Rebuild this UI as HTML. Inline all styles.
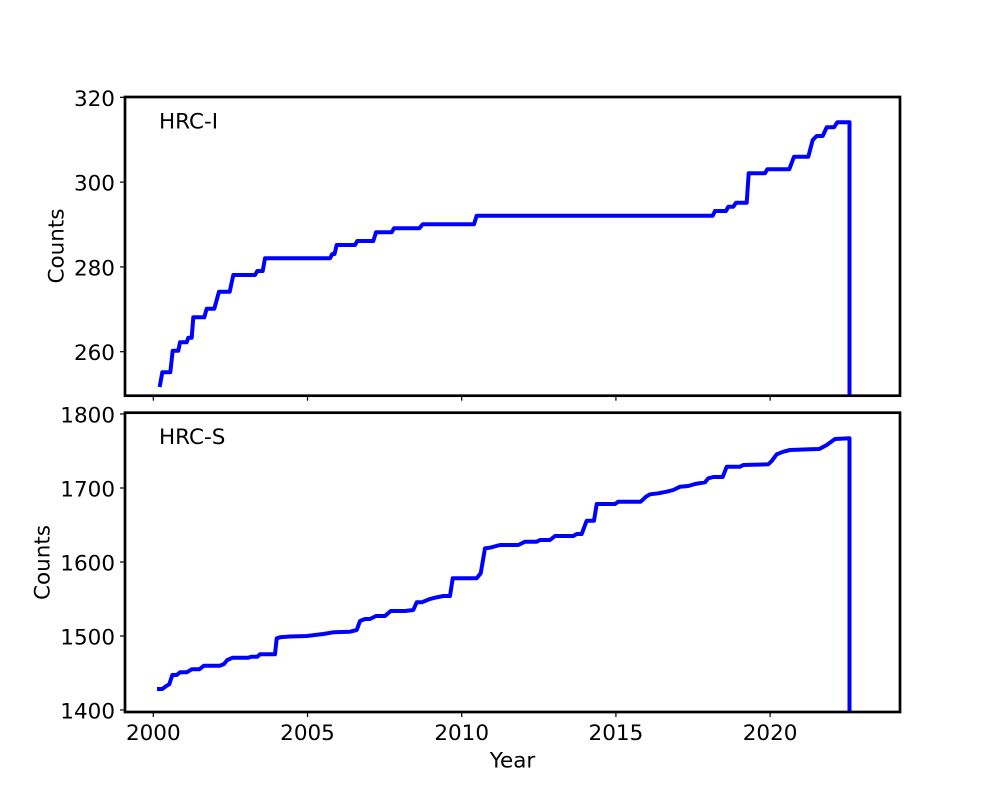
<!DOCTYPE html>
<html>
<head>
<meta charset="utf-8">
<style>
  html, body { margin: 0; padding: 0; background: #ffffff; }
  svg { display: block; }
  text { font-family: "DejaVu Sans", "Liberation Sans", sans-serif; font-size: 21.5px; fill: #000; }
</style>
</head>
<body>
<svg width="1000" height="800" viewBox="0 0 1000 800" xmlns="http://www.w3.org/2000/svg">
  <rect x="0" y="0" width="1000" height="800" fill="#ffffff"/>
  <defs>
    <clipPath id="c1"><rect x="125" y="97" width="775" height="298.7"/></clipPath>
    <clipPath id="c2"><rect x="125" y="412.7" width="775" height="299.3"/></clipPath>
  </defs>

  <!-- ===== Top axes (HRC-I) ===== -->
  <polyline clip-path="url(#c1)" fill="none" stroke="#0000ff" stroke-width="4" stroke-linejoin="round" stroke-linecap="square"
    points="160,385 162.3,372.3 170.3,372.3 172.7,350.7 178.3,350.7 180,342.3 186.7,342.3 188.3,337.7 191.7,337.7 193.3,317.3 204.3,317.3 206.7,308.7 214.3,308.7 219,291.7 229.7,291.7 233.3,275 255,275 257.3,271 262.7,271 265,258.3 330,258.3 332.3,254 334.5,254 336.7,245 355,245 357.3,241 373.3,241 376,232.3 391.7,232.3 394,228.3 419.3,228.3 422.7,224.3 474,224.3 476.7,215.7 712.7,215.7 715,211 726,211 728.3,206.7 733.3,206.7 736,202.7 746.7,202.7 748.7,173.3 765,173.3 767.3,169.3 789.3,169.3 794,156.7 808.3,156.7 812.7,140 816.7,136 822.7,136 826.7,127.3 834,127.3 837.3,122.3 849.5,122.3 849.5,410"/>
  <rect x="125" y="97" width="775" height="298.7" fill="none" stroke="#000" stroke-width="2.7"/>
  <!-- y ticks top -->
  <g stroke="#000" stroke-width="1.2">
    <line x1="120" y1="97.3" x2="125" y2="97.3"/>
    <line x1="120" y1="182.1" x2="125" y2="182.1"/>
    <line x1="120" y1="266.9" x2="125" y2="266.9"/>
    <line x1="120" y1="351.7" x2="125" y2="351.7"/>
    <!-- x ticks top axes -->
    <line x1="153.3" y1="395.7" x2="153.3" y2="400.7"/>
    <line x1="307.5" y1="395.7" x2="307.5" y2="400.7"/>
    <line x1="461.7" y1="395.7" x2="461.7" y2="400.7"/>
    <line x1="615.9" y1="395.7" x2="615.9" y2="400.7"/>
    <line x1="770.1" y1="395.7" x2="770.1" y2="400.7"/>
  </g>
  <g text-anchor="end">
    <text x="115" y="105.8">320</text>
    <text x="115" y="190.6">300</text>
    <text x="115" y="275.4">280</text>
    <text x="115" y="360.2">260</text>
  </g>
  <text x="63.5" y="246" text-anchor="middle" transform="rotate(-90 63.5 246)">Counts</text>
  <text x="159" y="128.3">HRC-I</text>

  <!-- ===== Bottom axes (HRC-S) ===== -->
  <polyline clip-path="url(#c2)" fill="none" stroke="#0000ff" stroke-width="4" stroke-linejoin="round" stroke-linecap="square"
    points="159,689 162.3,689 166.7,685.7 169.3,684.3 172.3,675 176.7,675 180,672.3 186.7,672.3 191.7,669.3 199.3,669.3 204,665.7 220,665.7 224,664 227.3,660 232.7,657.7 248.3,657.7 251.7,656.7 257.3,656.7 260,654.3 275,654.3 276.7,638.3 280,637.3 290,636.5 306.7,636 323.3,634 333.3,632.3 350,631.7 356.7,630 360,621 365,619 370,619 376,616 385,616 390.7,611 405,611 413.3,610 416.7,602.3 421.7,602.3 430,599 435,597.7 443.3,596 450,596 452.7,578.3 476.7,578.3 480.7,573.3 485,548.3 490,547.7 500,545 518.3,545 525,541.7 536.7,541.7 540,540 550,540 555,536 573.3,536 576.7,534 581.7,534 586.7,520.7 594,520.7 596.7,504 615,504 618.3,501.7 640.7,501.7 646,496.7 650,494.3 658.3,493.3 666.7,491.7 673.3,490 680,486.7 688.3,486 695,484 705,482.3 708.3,478.3 713.3,477 722.7,477 726.7,466.7 740,466.7 743.3,465 768.3,464.3 771.7,461 776.7,454.3 783.3,451.7 790,450 810,449.3 819.3,449 826.7,445 835,439 849.5,438.3 849.5,725"/>
  <rect x="125" y="412.7" width="775" height="299.3" fill="none" stroke="#000" stroke-width="2.7"/>
  <g stroke="#000" stroke-width="1.2">
    <line x1="120" y1="414" x2="125" y2="414"/>
    <line x1="120" y1="488" x2="125" y2="488"/>
    <line x1="120" y1="562" x2="125" y2="562"/>
    <line x1="120" y1="636" x2="125" y2="636"/>
    <line x1="120" y1="710" x2="125" y2="710"/>
    <line x1="153.3" y1="712" x2="153.3" y2="717"/>
    <line x1="307.5" y1="712" x2="307.5" y2="717"/>
    <line x1="461.7" y1="712" x2="461.7" y2="717"/>
    <line x1="615.9" y1="712" x2="615.9" y2="717"/>
    <line x1="770.1" y1="712" x2="770.1" y2="717"/>
  </g>
  <g text-anchor="end">
    <text x="115" y="422.5">1800</text>
    <text x="115" y="496.5">1700</text>
    <text x="115" y="570.5">1600</text>
    <text x="115" y="644.5">1500</text>
    <text x="115" y="718.5">1400</text>
  </g>
  <g text-anchor="middle">
    <text x="153.3" y="740">2000</text>
    <text x="307.5" y="740">2005</text>
    <text x="461.7" y="740">2010</text>
    <text x="615.9" y="740">2015</text>
    <text x="770.1" y="740">2020</text>
  </g>
  <text x="512.5" y="767.5" text-anchor="middle">Year</text>
  <text x="49.5" y="562.5" text-anchor="middle" transform="rotate(-90 49.5 562.5)">Counts</text>
  <text x="159" y="444">HRC-S</text>
</svg>
</body>
</html>
